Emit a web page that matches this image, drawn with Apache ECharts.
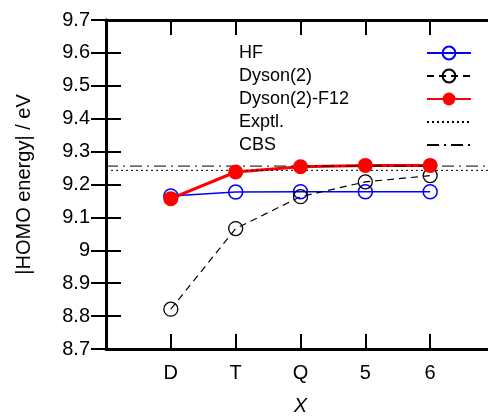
<!DOCTYPE html>
<html>
<head>
<meta charset="utf-8">
<script src="https://cdn.jsdelivr.net/npm/echarts@6/dist/echarts.min.js"></script>
<style>
  html, body { margin: 0; padding: 0; background: #fff; }
  #chart { width: 488px; height: 416px; }
</style>
</head>
<body>
<div id="chart"></div>
<script>
// basis sets along the x axis (positions 1..5)
var basisLabels = ['D', 'T', 'Q', '5', '6'];
var yTicks = [8.7, 8.8, 8.9, 9.0, 9.1, 9.2, 9.3, 9.4, 9.5, 9.6, 9.7];

var hfVals = [9.165, 9.177, 9.178, 9.178, 9.178];
var dysonVals = [8.821, 9.066, 9.163, 9.208, 9.227];
var f12Vals = [9.157, 9.238, 9.254, 9.258, 9.258];
var exptlVal = 9.243;
var cbsVal = 9.256;

function pts(vals) {
    return vals.map(function (v, i) { return [i + 1, v]; });
}
function hline(v) {
    return [[0, v], [basisLabels.length + 1, v]];
}

var font = 'Liberation Sans, Arial, sans-serif';
var axisBox = { show: true, lineStyle: { color: '#000', width: 3 } };
var tickIn = { show: true, inside: true, length: 15, lineStyle: { color: '#000', width: 2 } };

var myChart = echarts.init(document.getElementById('chart'));
var option = {
    animation: false,
    backgroundColor: '#fff',
    textStyle: { fontFamily: font },
    grid: { left: 106, right: -7, top: 20, bottom: 67, outerBoundsMode: 'none' },
    legend: {
        orient: 'vertical',
        left: 234,
        top: 39,
        align: 'right',
        itemWidth: 44,
        itemHeight: 16,
        itemGap: 5,
        textStyle: {
            fontFamily: font,
            fontSize: 18,
            color: '#000',
            rich: { t: { width: 183, align: 'left', fontSize: 18, fontFamily: font, color: '#000' } }
        },
        formatter: function (name) { return '{t|' + name + '}'; },
        data: ['HF', 'Dyson(2)', 'Dyson(2)-F12', 'Exptl.', 'CBS']
    },
    xAxis: [{
        type: 'value',
        min: 0,
        max: basisLabels.length + 1,
        interval: 1,
        axisLine: axisBox,
        axisTick: tickIn,
        splitLine: { show: false },
        axisLabel: {
            fontSize: 20, color: '#000', margin: 14,
            formatter: function (v) { return basisLabels[v - 1] || ''; }
        },
        name: 'X',
        nameLocation: 'middle',
        nameGap: 47,
        nameTextStyle: { fontSize: 20, fontStyle: 'italic', color: '#000' }
    }, {
        type: 'value',
        position: 'top',
        min: 0,
        max: basisLabels.length + 1,
        interval: 1,
        axisLine: axisBox,
        axisTick: tickIn,
        axisLabel: { show: false },
        splitLine: { show: false }
    }],
    yAxis: [{
        type: 'value',
        min: yTicks[0],
        max: yTicks[yTicks.length - 1],
        interval: 0.1,
        axisLine: axisBox,
        axisTick: tickIn,
        splitLine: { show: false },
        axisLabel: {
            fontSize: 20, color: '#000', margin: 16,
            formatter: function (v) { return String(Math.round(v * 10) / 10); }
        },
        name: '|HOMO energy| / eV',
        nameLocation: 'middle',
        nameGap: 72,
        nameTextStyle: { fontSize: 20, color: '#000' }
    }, {
        type: 'value',
        position: 'right',
        min: yTicks[0],
        max: yTicks[yTicks.length - 1],
        interval: 0.1,
        axisLine: axisBox,
        axisTick: tickIn,
        axisLabel: { show: false },
        splitLine: { show: false }
    }],
    series: [{
        name: 'HF',
        type: 'line',
        data: pts(hfVals),
        symbol: 'circle',
        symbolSize: 14,
        lineStyle: { color: '#0000ff', width: 1.5 },
        itemStyle: { color: 'transparent', borderColor: '#0000ff', borderWidth: 1.5 }
    }, {
        name: 'Dyson(2)',
        type: 'line',
        data: pts(dysonVals),
        symbol: 'circle',
        symbolSize: 14,
        lineStyle: { color: '#000', width: 1.2, type: [7, 5] },
        itemStyle: { color: 'transparent', borderColor: '#000', borderWidth: 1.3 }
    }, {
        name: 'Dyson(2)-F12',
        type: 'line',
        data: pts(f12Vals),
        symbol: 'circle',
        symbolSize: 15,
        lineStyle: { color: '#ff0000', width: 3 },
        itemStyle: { color: '#ff0000', borderColor: '#ff0000', borderWidth: 0 }
    }, {
        name: 'Exptl.',
        type: 'line',
        data: hline(exptlVal),
        symbol: 'none',
        lineStyle: { color: '#000', width: 1, type: [2, 3] },
        itemStyle: { color: 'transparent', borderColor: 'transparent', borderWidth: 0 }
    }, {
        name: 'CBS',
        type: 'line',
        data: hline(cbsVal),
        symbol: 'none',
        lineStyle: { color: '#000', width: 1, type: [12, 5, 2, 5] },
        itemStyle: { color: 'transparent', borderColor: 'transparent', borderWidth: 0 }
    }]
};
myChart.setOption(option);
</script>
</body>
</html>
